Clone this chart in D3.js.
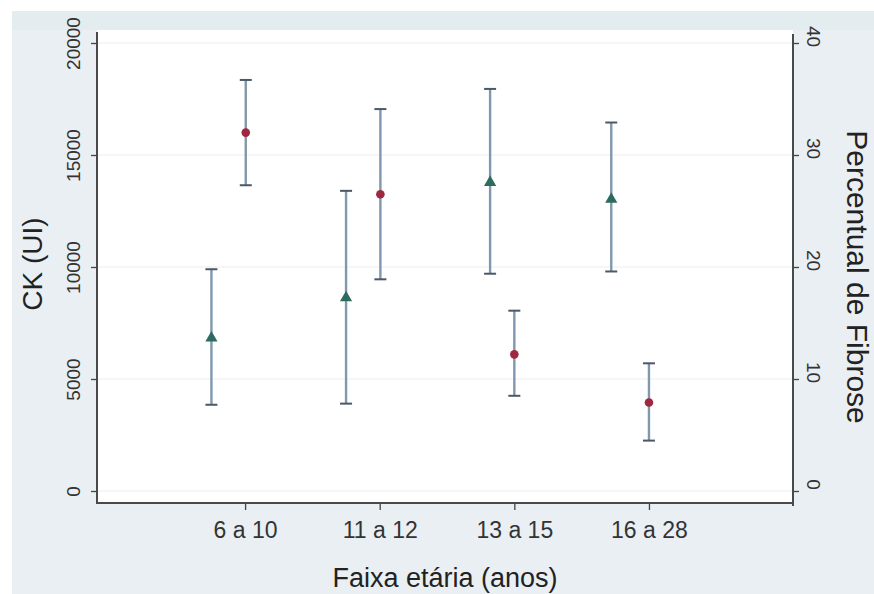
<!DOCTYPE html>
<html>
<head>
<meta charset="utf-8">
<script src="https://cdn.jsdelivr.net/npm/d3@7"></script>
<style>
  html, body { margin: 0; padding: 0; background: #fff; }
  svg { display: block; font-family: "Liberation Sans", Arial, sans-serif; }
</style>
</head>
<body>
<div id="chart"></div>
<script>
const categories = ["6 a 10", "11 a 12", "13 a 15", "16 a 28"];

// CK (left axis), red circles
const ckX = [1.005, 2.005, 3.0, 4.0];
const ckMean = [16000, 13250, 6100, 3950];
const ckLow = [13650, 9450, 4250, 2250];
const ckHigh = [18350, 17050, 8050, 5700];

// Percentual de Fibrose (right axis), green triangles
const fibX = [0.75, 1.75, 2.82, 3.72];
const fibMean = [13.7, 17.3, 27.6, 26.1];
const fibLow = [7.7, 7.8, 19.4, 19.6];
const fibHigh = [19.8, 26.8, 35.9, 32.9];

const leftTicks = [0, 5000, 10000, 15000, 20000];
const rightTicks = [0, 10, 20, 30, 40];

(function () {
  const W = 874, H = 594;
  const plot = { left: 97, right: 793, top: 30, bottom: 503 };

  const svg = d3.select("#chart").append("svg")
    .attr("width", W).attr("height", H);

  // graph region background
  svg.append("rect")
    .attr("x", 12).attr("y", 11)
    .attr("width", W - 12).attr("height", H - 11)
    .attr("fill", "#e9eff3");
  svg.append("rect")
    .attr("x", 12).attr("y", 11)
    .attr("width", W - 12).attr("height", 19)
    .attr("fill", "#e3edf0");

  svg.append("rect")
    .attr("x", plot.left).attr("y", plot.top)
    .attr("width", plot.right - plot.left).attr("height", plot.bottom - plot.top)
    .attr("fill", "#ffffff");

  const x = d3.scaleLinear()
    .domain([-0.1, 5.07])
    .range([plot.left, plot.right]);

  const yL = d3.scaleLinear().domain([0, 20000]).range([491, 43]);
  const yR = d3.scaleLinear().domain([0, 40]).range([491, 43]);

  // gridlines
  svg.append("g").selectAll("line")
    .data(leftTicks)
    .join("line")
    .attr("x1", plot.left).attr("x2", plot.right)
    .attr("y1", d => yL(d)).attr("y2", d => yL(d))
    .attr("stroke", "#eceff0")
    .attr("stroke-width", 1.2);

  // left axis
  const gL = svg.append("g")
    .attr("transform", `translate(${plot.left},0)`)
    .call(d3.axisLeft(yL).tickValues(leftTicks).tickSize(6).tickPadding(0).tickFormat(d3.format("d")));
  gL.select(".domain").remove();
  gL.selectAll(".tick line").attr("stroke", "#444").attr("stroke-width", 1.3);
  gL.selectAll(".tick text")
    .attr("x", 0).attr("y", 0).attr("dy", null)
    .attr("transform", "translate(-17,0) rotate(-90)")
    .attr("text-anchor", "middle")
    .attr("font-size", 19)
    .attr("fill", "#333");

  // right axis
  const gR = svg.append("g")
    .attr("transform", `translate(${plot.right},0)`)
    .call(d3.axisRight(yR).tickValues(rightTicks).tickSize(6).tickPadding(0));
  gR.select(".domain").remove();
  gR.selectAll(".tick line").attr("stroke", "#444").attr("stroke-width", 1.3);
  gR.selectAll(".tick text")
    .attr("x", 0).attr("y", 0).attr("dy", null)
    .attr("transform", "translate(14,-7) rotate(90)")
    .attr("text-anchor", "middle")
    .attr("font-size", 19)
    .attr("fill", "#333");

  // bottom axis
  const gB = svg.append("g")
    .attr("transform", `translate(0,${plot.bottom})`)
    .call(d3.axisBottom(x).tickValues([1, 2, 3, 4]).tickSize(7).tickPadding(0)
      .tickFormat(d => categories[d - 1]));
  gB.select(".domain").remove();
  gB.selectAll(".tick line").attr("stroke", "#444").attr("stroke-width", 1.3);
  gB.selectAll(".tick text")
    .attr("y", 35).attr("dy", null)
    .attr("font-size", 23)
    .attr("fill", "#333");

  // axis lines
  const axisColor = "#4a4a4a";
  svg.append("line")
    .attr("x1", plot.left).attr("x2", plot.left)
    .attr("y1", 32).attr("y2", plot.bottom)
    .attr("stroke", axisColor).attr("stroke-width", 2);
  svg.append("line")
    .attr("x1", plot.right).attr("x2", plot.right)
    .attr("y1", 34).attr("y2", plot.bottom + 3)
    .attr("stroke", axisColor).attr("stroke-width", 2);
  svg.append("line")
    .attr("x1", plot.left - 1).attr("x2", plot.right + 1)
    .attr("y1", plot.bottom).attr("y2", plot.bottom)
    .attr("stroke", axisColor).attr("stroke-width", 2);

  // axis titles
  svg.append("text")
    .attr("transform", `translate(42,264) rotate(-90)`)
    .attr("text-anchor", "middle")
    .attr("font-size", 28)
    .attr("fill", "#222")
    .text("CK (UI)");

  svg.append("text")
    .attr("transform", `translate(847,277) rotate(90)`)
    .attr("text-anchor", "middle")
    .attr("font-size", 30)
    .attr("fill", "#222")
    .text("Percentual de Fibrose");

  svg.append("text")
    .attr("x", (plot.left + plot.right) / 2)
    .attr("y", 587)
    .attr("text-anchor", "middle")
    .attr("font-size", 27)
    .attr("fill", "#222")
    .text("Faixa etária (anos)");

  const ckData = categories.map((c, i) => ({ x: ckX[i], m: ckMean[i], lo: ckLow[i], hi: ckHigh[i] }));
  const fibData = categories.map((c, i) => ({ x: fibX[i], m: fibMean[i], lo: fibLow[i], hi: fibHigh[i] }));

  function errorBars(data, y) {
    const g = svg.append("g");
    g.selectAll("line.bar")
      .data(data)
      .join("line")
      .attr("class", "bar")
      .attr("x1", d => x(d.x)).attr("x2", d => x(d.x))
      .attr("y1", d => y(d.lo)).attr("y2", d => y(d.hi))
      .attr("stroke", "#8098ad")
      .attr("stroke-width", 2.4);
    ["lo", "hi"].forEach(k => {
      g.selectAll("line.cap-" + k)
        .data(data)
        .join("line")
        .attr("class", "cap-" + k)
        .attr("x1", d => x(d.x) - 6).attr("x2", d => x(d.x) + 6)
        .attr("y1", d => y(d[k])).attr("y2", d => y(d[k]))
        .attr("stroke", "#4b5866")
        .attr("stroke-width", 2);
    });
  }

  errorBars(fibData, yR);
  errorBars(ckData, yL);

  svg.append("g").selectAll("path")
    .data(fibData)
    .join("path")
    .attr("d", d3.symbol(d3.symbolTriangle, 64))
    .attr("transform", d => `translate(${x(d.x)},${yR(d.m) + 0.5})`)
    .attr("fill", "#2c6b5d");

  svg.append("g").selectAll("circle")
    .data(ckData)
    .join("circle")
    .attr("cx", d => x(d.x))
    .attr("cy", d => yL(d.m))
    .attr("r", 4.3)
    .attr("fill", "#9d2840");
})();
</script>
</body>
</html>
